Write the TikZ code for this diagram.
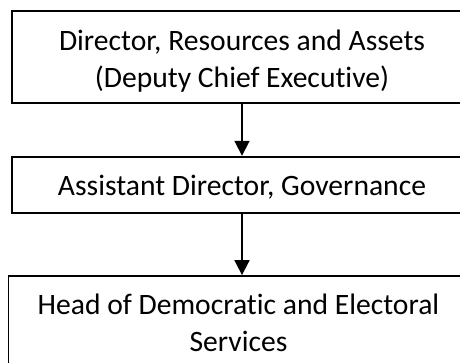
\documentclass[tikz,border=0pt]{standalone}
\usepackage{fontspec}
\setmainfont[Ligatures=NoCommon]{Carlito}
\usetikzlibrary{arrows.meta}
\begin{document}
\begin{tikzpicture}[x=1pt,y=-1pt,
  box/.style={draw, line width=1.8pt, rectangle, inner sep=0pt,
    minimum width=460pt, align=center,
    font=\fontsize{29.6}{37}\selectfont},
  link/.style={line width=1.8pt, -{Triangle[length=15pt,width=15pt]}}]
\useasboundingbox (0,0) rectangle (460,362);
\clip (0,0) rectangle (460,362);
% the three posts, top to bottom
\node[box, minimum height=92.3pt, text height=63pt, text depth=2.7pt]
  (director) at (242,56.85) {Director, Resources and Assets\\(Deputy Chief Executive)};
\node[box, minimum height=56.6pt, text height=22pt, text depth=2pt]
  (assistant) at (242,185) {Assistant Director, Governance};
\node[box, minimum height=110pt, text height=44pt, text depth=2.6pt]
  (head) at (238.5,331) {Head of Democratic and Electoral\\Services};
% reporting lines
\draw[link] (director.south) -- (assistant.north);
\draw[link] (assistant.south) -- (assistant.south |- head.north);
\end{tikzpicture}
\end{document}
